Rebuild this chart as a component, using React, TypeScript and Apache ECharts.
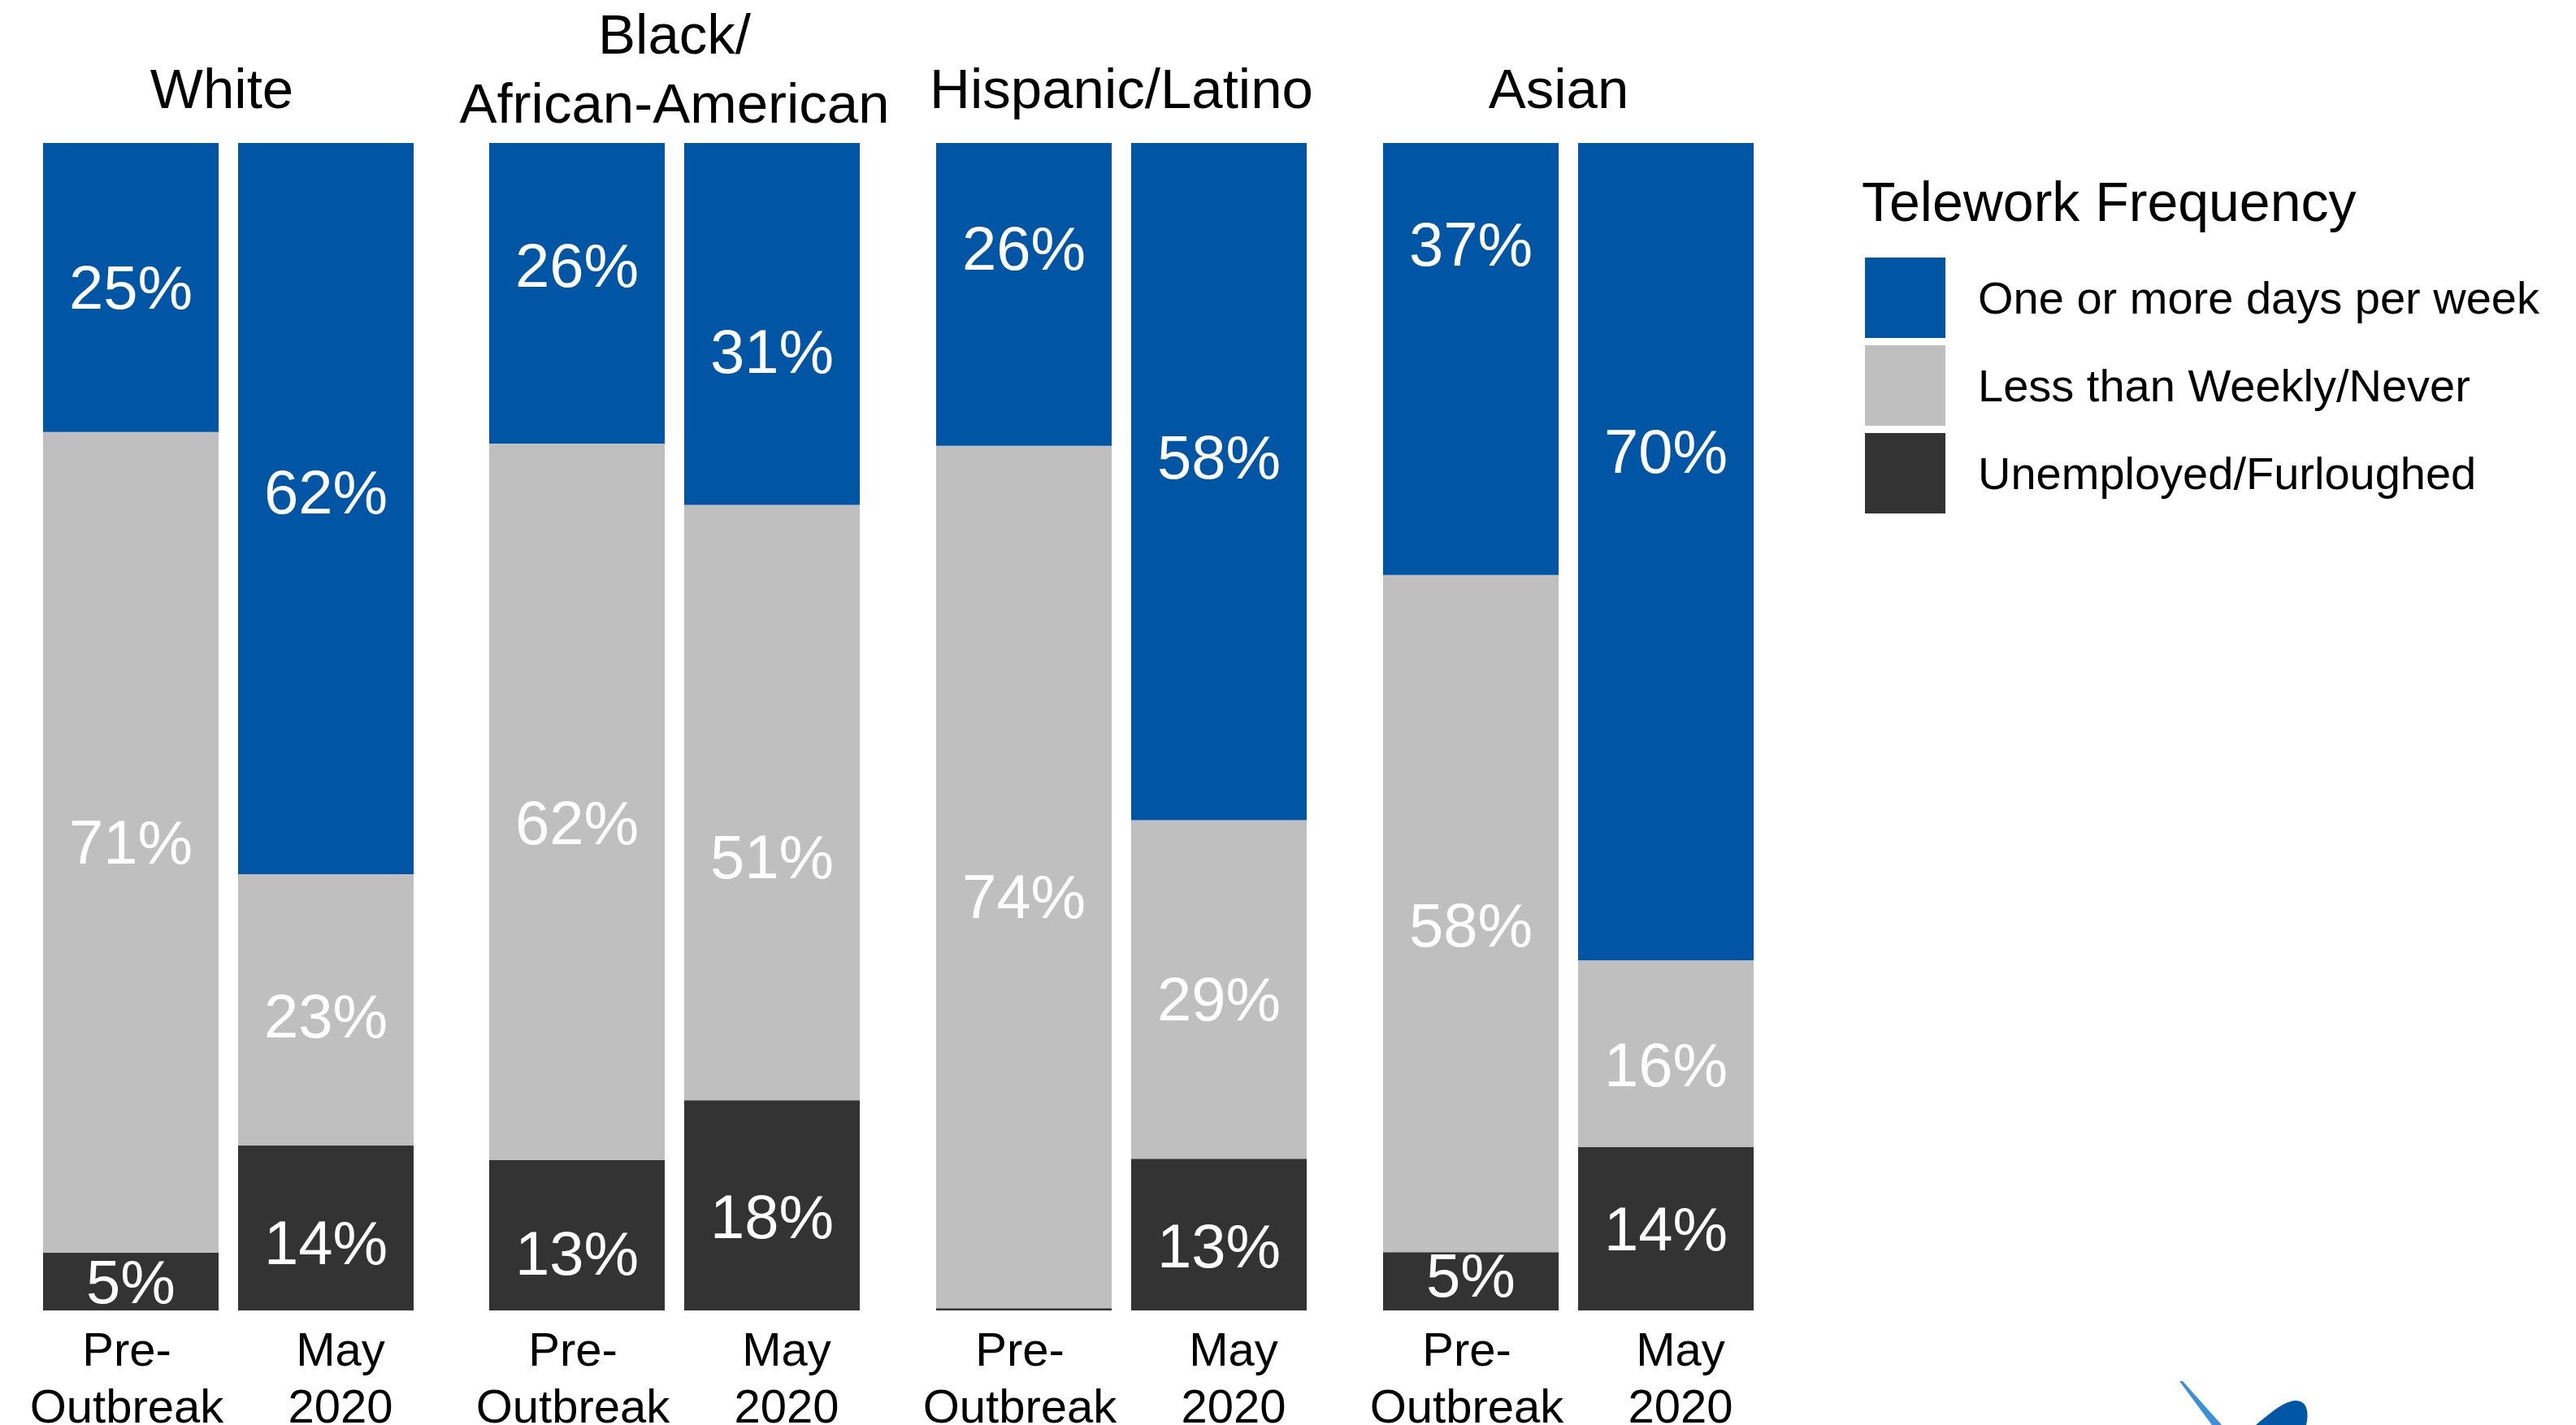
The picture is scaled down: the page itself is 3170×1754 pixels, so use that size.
import React, { useEffect, useRef } from "react";
import * as echarts from "echarts";

// ---- data ----
const groups = ["White", "Black/\nAfrican-American", "Hispanic/Latino", "Asian"];
const periods = ["Pre-\nOutbreak", "May\n2020"];
const seriesNames = ["One or more days per week", "Less than Weekly/Never", "Unemployed/Furloughed"];
// values per group: [Pre-Outbreak, May 2020]
const oneOrMore = [[25, 62], [26, 31], [26, 58], [37, 70]];
const lessThanWeekly = [[71, 23], [62, 51], [74, 29], [58, 16]];
const unemployed = [[5, 14], [13, 18], [0.2, 13], [5, 14]];

// ---- style ----
const COLORS = ["#0055A5", "#BFBFBF", "#333333"];
const FONT = "'Liberation Sans', Arial, sans-serif";
// vertical label nudges (px) to mimic the reference placement
const labelNudge = [
  [[0, -20], [-34, 34], [-57, -30], [-141, -123]],
  [[0, 8], [26, 67], [24, 12], [14, 14]],
  [[0, 18], [22, 14], [0, 14], [-8, 0]],
];
const titleShift = [-8, 0, 0, -12];

const GRID_LEFTS = [41, 590, 1140, 1690];
const GRID_W = 480;
const GRID_TOP = 176;
const GRID_H = 1437;

export default function App() {
  const ref = useRef<HTMLDivElement>(null);
  useEffect(() => {
    if (!ref.current) return;
    echarts.graphic.registerShape(
      "logoLine",
      echarts.graphic.extendPath("M2682 1700 L2686 1700 L2734 1754 L2722 1754 Z", {})
    );
    echarts.graphic.registerShape(
      "logoBlob",
      echarts.graphic.extendPath(
        "M2776 1754 C2795 1738 2812 1724 2825 1724 C2838 1724 2842 1736 2838 1754 Z",
        {}
      )
    );
    const chart = echarts.init(ref.current, undefined, { renderer: "svg" });
    const all = [oneOrMore, lessThanWeekly, unemployed];
    const grids: any[] = [];
    const xAxes: any[] = [];
    const yAxes: any[] = [];
    const series: any[] = [];
    const titles: any[] = [];
    groups.forEach((g, gi) => {
      grids.push({
        left: GRID_LEFTS[gi],
        width: GRID_W,
        top: GRID_TOP,
        height: GRID_H,
        outerBoundsMode: "none",
        containLabel: false,
      });
      xAxes.push({
        type: "category",
        gridIndex: gi,
        data: periods.map((p, pi) => ({
          value: p,
          textStyle: { padding: pi === 1 ? [0, 0, 0, 36] : [0, 10, 0, 0] },
        })),
        axisLine: { show: false },
        axisTick: { show: false },
        axisLabel: {
          interval: 0,
          hideOverlap: false,
          fontSize: 58,
          lineHeight: 70,
          color: "#000",
          fontFamily: FONT,
          margin: 12,
        },
      });
      yAxes.push({ type: "value", gridIndex: gi, min: 0, max: 100, show: false });
      const totals = periods.map((_, pi) => all.reduce((s, arr) => s + arr[gi][pi], 0));
      // stack bottom to top: unemployed, less than weekly, one or more
      [2, 1, 0].forEach((si) => {
        series.push({
          type: "bar",
          name: seriesNames[si],
          xAxisIndex: gi,
          yAxisIndex: gi,
          stack: "s" + gi,
          barWidth: 216,
          itemStyle: { color: COLORS[si] },
          label: {
            show: true,
            position: "inside",
            color: "#fff",
            fontSize: 76,
            fontFamily: FONT,
            formatter: (p: any) => (p.data.raw >= 1 ? p.data.raw + "%" : ""),
          },
          data: periods.map((_, pi) => ({
            value: (all[si][gi][pi] / totals[pi]) * 100,
            raw: all[si][gi][pi],
            label: { offset: [0, labelNudge[si][gi][pi]] },
          })),
        });
      });
      const single = !g.includes("\n");
      titles.push({
        text: g,
        left: GRID_LEFTS[gi] + GRID_W / 2 + titleShift[gi],
        top: single ? 67 : 0,
        textAlign: "center",
        padding: 0,
        textStyle: { fontSize: 69, lineHeight: 85, fontWeight: "normal", color: "#000", fontFamily: FONT },
      });
    });
    titles.push({
      text: "Telework Frequency",
      left: 2291,
      top: 210,
      padding: 0,
      textStyle: { fontSize: 68, lineHeight: 76, fontWeight: "normal", color: "#000", fontFamily: FONT },
    });

    chart.setOption({
      animation: false,
      backgroundColor: "#fff",
      title: titles,
      grid: grids,
      xAxis: xAxes,
      yAxis: yAxes,
      series,
      legend: {
        data: seriesNames,
        orient: "vertical",
        left: 2295,
        top: 317,
        padding: 0,
        itemWidth: 99,
        itemHeight: 99,
        itemGap: 9,
        icon: "rect",
        selectedMode: false,
        textStyle: { fontSize: 56, color: "#000", fontFamily: FONT, padding: [0, 0, 0, 35] },
      },
      graphic: [
        { type: "logoLine", x: 0, y: 0, scaleX: 1, scaleY: 1, style: { fill: "#3C8FD8" } },
        { type: "logoBlob", x: 0, y: 0, scaleX: 1, scaleY: 1, style: { fill: "#0057A8" } },
      ],
    });
    return () => chart.dispose();
  }, []);
  return (
    <div
      ref={ref}
      style={{ position: "fixed", left: 0, top: 0, width: 3170, height: 1754, background: "#fff" }}
    />
  );
}
